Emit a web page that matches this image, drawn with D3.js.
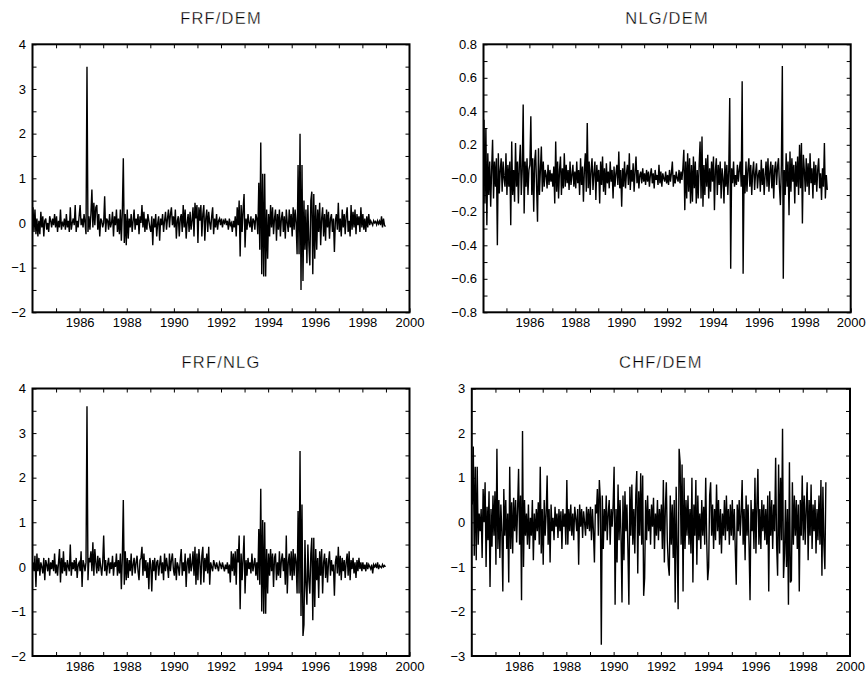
<!DOCTYPE html>
<html>
<head>
<meta charset="utf-8">
<script src="https://cdn.jsdelivr.net/npm/d3@7"></script>
<style>
  html, body { margin: 0; padding: 0; background: #fff; }
  svg { display: block; }
  text { font-family: "Liberation Sans", Arial, sans-serif; fill: #000; }
</style>
</head>
<body>
<svg id="chart" width="868" height="679"></svg>
<script>
// ---------------- DATA ----------------
const titles = ["FRF/DEM", "NLG/DEM", "FRF/NLG", "CHF/DEM"];
const startYear = 1984;
const obsPerYear = 24;
const xTickYears = [1985,1986,1987,1988,1989,1990,1991,1992,1993,1994,1995,1996,1997,1998,1999];
const xLabelYears = [1986,1988,1990,1992,1994,1996,1998,2000];

const yLabels1 = [-2,-1,0,1,2,3,4];
const yLabels2 = [-0.8,-0.6,-0.4,-0.2,0,0.2,0.4,0.6,0.8];
const yLabelText2 = ["\u22120.8","\u22120.6","\u22120.4","\u22120.2","\u22120.0","0.2","0.4","0.6","0.8"];
const yLabels4 = [-3,-2,-1,0,1,2,3];

const frfDem = [
 0.35,-0.2,0.3,-0.25,0.1,-0.3,0.05,-0.25,0.25,-0.1,0.15,-0.3,0.05,0.1,-0.15,0.0,-0.2,0.15,0.05,-0.1,0.1,-0.05,0.2,-0.1,
 0.15,-0.2,0.05,-0.1,0.3,-0.15,0.0,-0.05,0.1,-0.15,0.2,-0.1,0.05,-0.2,0.35,-0.15,0.0,0.1,-0.05,0.4,-0.2,0.05,-0.1,0.15,
 0.4,-0.05,0.1,-0.1,0.2,0.0,-0.25,3.5,-0.2,0.15,-0.15,0.2,0.75,-0.1,0.45,-0.05,0.35,0.4,-0.15,0.2,-0.3,0.1,0.05,-0.1,
 0.0,0.6,-0.2,0.1,0.05,-0.15,0.2,-0.1,0.0,0.25,-0.3,0.15,-0.05,0.3,-0.2,0.1,-0.25,0.3,-0.4,0.25,1.45,-0.45,0.2,-0.5,
 0.3,-0.35,0.1,-0.1,0.2,-0.2,0.05,0.3,-0.15,0.1,-0.05,0.2,-0.25,0.15,0.0,0.4,-0.1,0.25,-0.2,0.1,-0.15,0.2,0.05,-0.1,
 -0.2,0.15,-0.5,0.1,-0.1,0.2,-0.3,0.0,0.15,-0.4,0.1,-0.05,0.2,-0.2,0.05,0.25,-0.15,0.1,0.3,-0.1,0.2,0.35,-0.05,0.15,
 -0.1,0.3,-0.35,0.05,0.15,-0.3,0.1,0.2,-0.2,0.4,-0.1,0.3,-0.35,0.0,0.2,-0.2,0.25,-0.15,0.05,0.35,-0.3,0.45,0.1,0.4,
 -0.45,0.35,0.05,0.4,-0.3,0.2,0.4,-0.4,0.1,0.3,-0.2,0.25,0.0,-0.15,0.15,0.35,-0.25,0.1,-0.1,0.2,-0.15,0.05,0.1,-0.05,
 0.1,-0.1,0.05,0.0,0.1,-0.05,0.05,-0.15,0.1,-0.05,0.0,-0.2,0.05,-0.1,0.15,-0.3,0.35,-0.05,0.5,-0.75,0.4,-0.2,0.3,0.65,
 -0.55,0.1,-0.15,0.2,0.0,-0.1,0.15,-0.2,0.1,0.05,-0.15,0.2,0.1,-0.25,0.9,-0.6,1.8,-1.15,1.1,-1.2,1.1,-1.2,0.3,-0.8,
 0.2,-0.3,0.4,-0.1,0.35,-0.25,0.1,0.3,-0.4,0.2,-0.15,0.3,-0.3,0.1,0.25,-0.2,0.15,-0.35,0.3,0.0,-0.2,0.3,-0.1,0.2,
 -0.3,0.35,-0.15,0.3,0.0,-0.7,1.3,-0.7,2.0,-1.5,1.3,-1.3,0.5,-0.6,0.3,-0.9,0.4,-0.5,-0.95,0.5,0.7,-1.15,0.65,-0.8,
 0.4,-0.6,0.3,-0.2,0.45,-0.5,0.1,0.35,-0.3,0.2,-0.4,0.3,-0.1,0.25,-0.35,0.1,0.2,-0.2,0.1,-0.65,0.05,0.2,-0.15,0.45,
 -0.2,0.1,-0.3,0.3,-0.1,0.2,-0.25,0.15,0.35,-0.2,0.05,-0.3,0.4,-0.15,0.25,-0.1,0.3,-0.25,0.2,-0.05,0.15,-0.2,0.35,-0.1,
 0.2,-0.15,0.1,-0.2,0.15,-0.1,0.2,-0.05,0.05,0.0,-0.05,0.05,0.0,0.03,-0.04,0.05,-0.02,0.04,-0.05,0.15,-0.1,0.1,-0.05,-0.08
];

const nlgDem = [
 0.35,-0.15,0.3,-0.28,0.15,-0.1,0.1,-0.17,0.05,0.23,-0.12,0.1,-0.05,0.12,-0.4,0.15,-0.09,0.05,0.12,-0.08,0.1,0.0,-0.05,0.15,
 -0.1,0.08,-0.05,0.1,-0.28,0.22,-0.1,0.05,-0.14,0.21,-0.05,0.1,-0.15,0.08,0.2,-0.1,0.05,0.44,-0.21,0.1,-0.05,0.12,-0.1,0.05,
 0.08,0.37,-0.1,0.12,-0.2,0.1,0.17,-0.05,-0.26,0.18,-0.1,0.05,0.19,-0.08,0.1,-0.05,0.05,0.02,-0.06,0.08,-0.04,0.05,-0.02,0.03,
 -0.05,0.07,-0.15,0.22,-0.08,0.1,-0.12,0.05,0.13,-0.1,0.06,-0.06,0.15,-0.05,0.08,-0.03,0.05,-0.07,0.1,-0.04,0.02,0.08,-0.05,0.04,
 -0.06,0.1,-0.03,0.05,-0.1,0.12,-0.04,0.07,-0.14,0.05,0.15,-0.08,0.33,-0.06,0.1,-0.1,0.05,0.12,-0.07,0.03,0.1,-0.13,0.08,-0.02,
 0.05,-0.15,0.1,-0.04,0.13,-0.08,0.06,-0.1,0.09,-0.03,0.04,-0.06,0.1,-0.02,0.05,-0.12,0.07,-0.05,0.03,0.08,-0.04,0.16,-0.06,0.05,
 -0.17,0.06,-0.05,0.1,-0.06,0.03,0.08,-0.04,0.15,-0.07,0.05,-0.02,0.09,-0.08,0.04,0.13,-0.03,0.05,-0.06,0.02,0.04,-0.03,0.06,-0.02,
 0.03,-0.04,0.05,-0.02,0.04,-0.05,0.02,0.06,-0.03,0.03,-0.06,0.05,-0.01,0.02,-0.04,0.08,-0.03,0.04,-0.05,0.03,0.0,-0.02,0.04,-0.03,
 0.02,-0.04,0.05,-0.02,0.03,0.1,-0.05,0.02,-0.03,0.04,0.0,-0.02,0.05,-0.03,0.04,-0.01,0.06,0.17,-0.19,0.1,-0.12,0.15,-0.08,0.12,
 -0.15,0.08,-0.14,0.13,-0.06,0.1,-0.15,0.05,-0.12,0.08,0.22,-0.12,0.25,-0.17,0.08,-0.1,0.12,-0.05,0.14,-0.12,0.06,-0.08,0.1,-0.02,
 0.13,-0.19,0.05,0.12,-0.1,0.08,-0.04,0.1,-0.12,0.06,0.0,-0.15,0.1,-0.05,0.08,-0.1,0.05,0.48,-0.54,0.06,-0.03,0.1,-0.05,0.02,
 -0.04,0.08,-0.02,0.05,0.1,-0.05,0.58,-0.57,0.02,-0.09,0.1,-0.08,0.05,0.12,-0.05,0.08,-0.1,0.04,0.1,-0.07,0.03,0.09,-0.06,0.02,
 0.05,-0.08,0.11,-0.04,0.06,-0.1,0.02,0.1,-0.05,0.12,-0.08,0.04,0.1,-0.06,0.08,-0.12,0.05,0.1,-0.04,0.07,0.12,-0.05,-0.16,0.08,
 0.67,-0.6,0.05,-0.1,0.15,-0.05,0.1,-0.22,0.16,-0.08,0.12,-0.02,0.08,-0.15,0.1,-0.05,0.13,-0.1,0.2,-0.06,0.21,-0.27,0.14,0.05,
 -0.08,0.12,-0.05,0.09,-0.1,0.15,-0.03,0.06,-0.12,0.1,-0.04,0.08,-0.08,0.05,0.12,-0.06,0.03,-0.13,0.06,-0.05,0.21,-0.12,0.02,-0.07
];

const frfNlg = [
 0.1,-0.1,0.25,-0.45,0.3,-0.1,0.2,-0.2,0.1,0.0,-0.15,0.2,-0.3,0.15,0.05,-0.1,0.2,-0.2,0.1,-0.05,0.15,-0.1,0.3,-0.15,
 0.05,-0.2,0.1,0.4,-0.35,0.2,-0.15,0.35,-0.1,0.1,-0.2,0.15,0.0,-0.1,0.5,-0.2,0.1,-0.05,0.15,-0.1,0.2,-0.25,0.05,0.1,
 -0.1,0.35,-0.45,0.15,0.05,-0.1,0.1,3.6,-0.3,0.2,0.1,0.35,-0.1,0.55,-0.2,0.4,0.1,-0.15,0.25,-0.1,0.2,0.0,-0.2,0.1,
 0.7,-0.1,0.15,-0.2,0.05,0.2,-0.15,0.1,-0.05,0.25,-0.2,0.1,0.0,0.3,-0.2,0.15,-0.15,0.3,-0.5,0.2,1.5,-0.4,0.35,-0.3,
 0.2,-0.25,0.15,-0.1,0.3,-0.2,0.05,0.2,-0.15,0.1,0.25,-0.1,-0.3,0.15,0.2,0.45,-0.2,0.3,-0.1,0.15,-0.25,0.1,-0.5,0.2,
 0.05,-0.55,0.15,-0.1,0.2,-0.3,0.1,0.15,-0.2,0.05,0.25,-0.15,0.1,-0.3,0.3,-0.1,0.2,0.0,-0.25,0.3,-0.1,0.15,0.3,-0.05,
 -0.2,0.2,-0.3,0.1,0.0,-0.2,0.15,0.4,-0.2,0.1,-0.1,0.3,-0.45,0.1,0.2,-0.15,0.3,-0.1,0.05,0.35,-0.2,0.45,-0.4,0.3,
 -0.3,0.4,0.1,-0.4,0.25,0.45,-0.35,0.2,-0.1,0.3,-0.15,0.45,-0.4,0.1,0.0,-0.1,0.15,0.05,-0.05,0.1,0.0,-0.1,0.1,0.05,
 -0.05,0.1,0.0,-0.1,0.05,-0.05,0.1,-0.15,0.05,-0.35,0.35,-0.1,0.3,-0.2,0.35,-0.4,0.4,0.1,0.7,-0.95,0.3,-0.3,0.2,0.7,
 -0.6,0.15,-0.2,0.2,-0.05,0.1,-0.15,0.3,-0.1,0.05,0.2,-0.2,0.1,-0.3,0.85,-0.4,1.75,-1.0,1.05,-1.05,1.0,-1.05,0.4,-0.6,
 0.3,-0.2,0.4,-0.1,0.3,-0.45,0.2,0.3,-0.3,0.1,-0.2,0.35,-0.25,0.15,0.3,-0.1,0.2,-0.4,0.7,-0.6,0.1,0.3,-0.2,0.35,
 -0.3,0.4,-0.2,0.3,0.1,-0.6,1.25,-0.6,2.6,-1.1,1.4,-1.55,-1.3,0.6,-0.4,-0.85,0.5,-0.3,-0.6,0.3,0.65,-1.2,0.65,-0.9,
 0.4,-0.3,0.2,-0.7,0.35,-0.2,0.4,-0.6,0.1,0.3,-0.25,0.2,-0.35,0.1,0.35,-0.2,0.15,-0.1,0.05,-0.65,0.1,0.25,-0.15,0.45,
 -0.2,0.25,-0.3,0.2,-0.1,0.15,-0.25,0.1,0.3,-0.2,0.35,-0.3,0.15,-0.05,0.2,-0.15,0.1,-0.25,0.15,-0.1,0.2,-0.05,0.1,-0.1,
 0.1,-0.05,0.05,-0.1,0.1,-0.05,0.05,0.0,-0.05,0.05,-0.15,0.05,0.0,0.05,-0.03,0.1,-0.05,0.03,0.0,-0.02,0.05,0.0,0.03,0.0
];

const chfDem = [
 0.4,1.7,-0.75,1.25,-0.85,1.25,-0.5,0.2,-0.2,0.3,-0.8,0.75,0.0,0.9,-1.0,0.35,-0.4,0.7,-1.45,0.3,-0.55,0.6,-0.3,0.7,
 -0.95,1.65,-0.6,0.5,-0.8,0.4,-0.2,-1.55,0.75,-0.3,0.5,-0.6,0.2,-1.35,1.25,-0.6,0.45,-0.7,0.55,-0.2,0.5,-0.45,0.3,1.2,
 -0.5,0.6,-1.75,2.05,-1.0,0.5,-0.3,0.2,-0.5,0.4,-0.6,0.1,-0.3,0.5,-0.85,0.2,-0.4,0.3,-0.2,0.45,-0.5,1.25,-0.7,0.3,
 -0.95,0.5,-0.3,0.2,1.05,-0.5,0.3,-0.9,0.4,-0.2,0.1,-0.4,0.35,-0.1,0.2,-0.35,0.3,-0.2,0.25,-0.6,0.3,-0.1,0.2,-0.5,
 0.95,-0.5,0.3,-0.2,0.4,-0.3,0.2,-0.4,0.35,0.1,-0.2,0.3,-0.95,0.4,-0.1,0.3,-0.35,0.25,0.0,-0.3,0.35,-0.15,0.3,-0.2,
 0.35,-0.4,0.3,-0.2,-0.9,0.4,0.2,0.75,-0.3,0.95,0.5,-2.75,0.6,-0.6,0.3,-0.2,0.6,-0.4,0.2,0.5,-0.5,0.3,-0.1,0.4,
 1.25,-1.85,0.3,-0.9,0.85,-0.4,0.5,-0.3,-1.8,0.6,-0.85,0.7,-0.2,0.4,-0.6,-1.85,0.8,-0.3,0.85,-0.5,0.3,-0.7,0.6,1.15,
 -1.15,0.7,-0.3,1.1,-0.5,1.05,-1.65,-1.25,0.5,-0.4,0.6,-0.2,0.3,-0.5,0.4,-0.1,0.55,-0.6,0.2,-0.3,0.5,-0.4,0.3,-0.2,
 0.4,-0.6,0.95,-0.9,0.3,0.9,-0.4,-0.95,-1.2,0.6,-0.5,0.4,-0.8,0.5,-1.8,0.8,-0.6,-1.95,1.65,1.35,-0.5,1.3,-1.55,1.0,
 -0.6,0.5,-0.3,0.6,-0.5,0.3,-0.7,1.0,-1.35,0.4,-0.3,0.95,-0.95,0.6,-0.4,0.2,-0.6,0.5,-0.3,0.35,-0.5,1.0,-0.4,-1.3,
 -1.0,0.6,0.9,-0.3,0.4,-0.6,0.3,-0.4,0.85,-0.2,0.5,-0.5,0.3,-0.7,0.2,-0.3,0.5,-0.4,0.6,-0.2,0.3,-0.5,0.4,-0.3,
 0.5,-0.4,0.3,-0.6,-1.4,0.4,-0.2,0.5,-0.3,0.2,0.95,-0.5,0.3,-0.85,0.6,-0.3,0.4,-0.5,-1.75,0.5,-0.2,0.3,-0.6,1.0,
 -0.7,0.4,1.2,-0.5,0.3,-0.6,0.5,-0.2,0.4,-0.4,0.3,-0.5,0.6,-1.55,0.7,-0.3,0.5,-0.6,0.4,-0.2,1.45,-0.5,-1.2,1.3,
 -0.7,1.0,-0.4,2.1,-1.25,-0.7,0.5,-1.0,0.3,-1.85,1.35,-1.35,-1.3,0.9,-0.5,0.6,-0.3,0.5,-0.6,0.4,-1.55,0.5,-0.3,1.05,
 -0.4,0.6,-0.5,0.3,0.9,-0.85,0.5,-0.3,0.85,-0.6,0.4,-0.2,0.5,-0.7,0.3,-0.4,0.6,-0.5,0.95,-1.2,0.8,-0.5,-1.05,0.9
];

// ---------------- LAYOUT ----------------
const panels = [
  { title: titles[0], data: frfDem, left: 32.5, right: 409.5, top: 44.3, bottom: 312.3, yDomain: [-2, 4],
    yLabelVals: yLabels1, yLabelFmt: d => d < 0 ? "\u2212" + Math.abs(d) : String(d), minorStep: 0.5, titleY: 24 },
  { title: titles[1], data: nlgDem, left: 483.5, right: 850.7, top: 44.3, bottom: 312.3, yDomain: [-0.8, 0.8],
    yLabelVals: yLabels2, yLabelFmt: d => yLabelText2[yLabels2.findIndex(v => Math.abs(v - d) < 1e-9)], minorStep: 0.1, titleY: 24 },
  { title: titles[2], data: frfNlg, left: 32.5, right: 409.5, top: 388.5, bottom: 656, yDomain: [-2, 4],
    yLabelVals: yLabels1, yLabelFmt: d => d < 0 ? "\u2212" + Math.abs(d) : String(d), minorStep: 0.5, titleY: 367.7 },
  { title: titles[3], data: chfDem, left: 471.8, right: 850, top: 388.7, bottom: 656, yDomain: [-3, 3],
    yLabelVals: yLabels4, yLabelFmt: d => d < 0 ? "\u2212" + Math.abs(d) : String(d), minorStep: 0.5, titleY: 367.7 }
];

const svg = d3.select("#chart");

panels.forEach(p => {
  const x = d3.scaleLinear().domain([1984, 2000]).range([p.left, p.right]);
  const y = d3.scaleLinear().domain(p.yDomain).range([p.bottom, p.top]);
  const g = svg.append("g");

  const nMinor = Math.round((p.yDomain[1] - p.yDomain[0]) / p.minorStep);
  const yTickVals = d3.range(nMinor + 1).map(k => +(p.yDomain[0] + k * p.minorStep).toFixed(4));
  const isLabel = v => p.yLabelVals.some(l => Math.abs(l - v) < 1e-9);

  const yLeft = d3.axisLeft(y).tickValues(yTickVals).tickSize(-4).tickPadding(6.5)
    .tickFormat(v => isLabel(v) ? p.yLabelFmt(v) : "");
  const yRight = d3.axisRight(y).tickValues(yTickVals).tickSize(-4).tickFormat("");
  const xBottom = d3.axisBottom(x).tickValues(xTickYears.concat(xLabelYears.filter(v => !xTickYears.includes(v))))
    .tickSize(-4).tickPadding(5.5).tickFormat(v => xLabelYears.includes(v) ? String(v) : "");
  const xTop = d3.axisTop(x).tickValues(xTickYears).tickSize(-4).tickFormat("");

  const styleAxis = sel => {
    sel.select(".domain").remove();
    sel.selectAll(".tick line").attr("stroke", "#000").attr("stroke-width", 1);
    sel.selectAll(".tick text").attr("font-size", 13).attr("fill", "#000")
      .attr("font-family", "'Liberation Sans', Arial, sans-serif");
  };

  g.append("g").attr("transform", `translate(${p.left},0)`).call(yLeft).call(styleAxis);
  g.append("g").attr("transform", `translate(${p.right},0)`).call(yRight).call(styleAxis);
  g.append("g").attr("transform", `translate(0,${p.bottom})`).call(xBottom).call(styleAxis);
  g.append("g").attr("transform", `translate(0,${p.top})`).call(xTop).call(styleAxis);

  const line = d3.line()
    .x((d, i) => x(startYear + (i + 0.5) / obsPerYear))
    .y(d => y(d));
  g.append("path").datum(p.data)
    .attr("d", line)
    .attr("fill", "none")
    .attr("stroke", "#000")
    .attr("stroke-width", 1.4)
    .attr("stroke-linejoin", "miter");

  g.append("rect")
    .attr("x", p.left).attr("y", p.top)
    .attr("width", p.right - p.left).attr("height", p.bottom - p.top)
    .attr("fill", "none").attr("stroke", "#000").attr("stroke-width", 2);

  g.append("text")
    .attr("x", (p.left + p.right) / 2).attr("y", p.titleY)
    .attr("text-anchor", "middle")
    .attr("font-family", "'DejaVu Sans', sans-serif")
    .attr("font-size", 16.5)
    .attr("letter-spacing", 1.2)
    .attr("stroke", "#fff")
    .attr("stroke-width", 0.3)
    .attr("paint-order", "fill")
    .text(p.title);
});
</script>
</body>
</html>
